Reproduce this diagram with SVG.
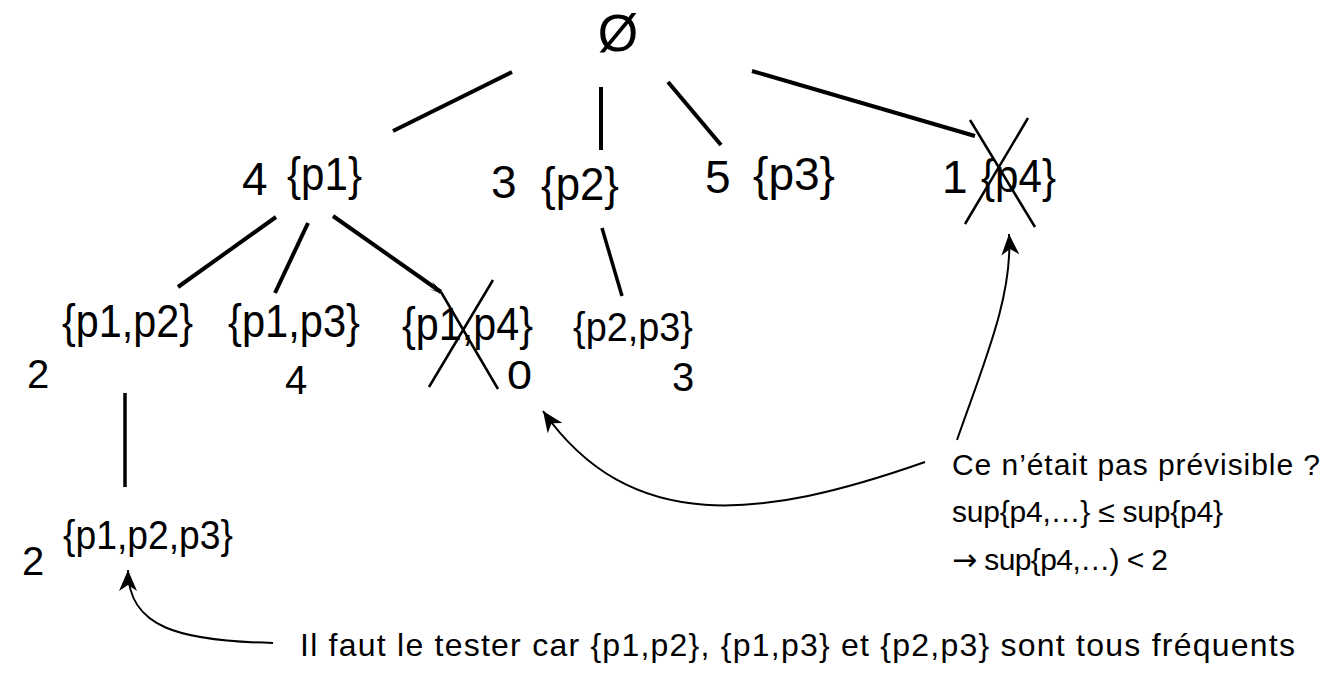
<svg xmlns="http://www.w3.org/2000/svg" width="1326" height="675" viewBox="0 0 1326 675">
<style>
text{font-family:"Liberation Sans",Arial,sans-serif;fill:#000}
.lbl{font-size:46px}
.l2{font-size:46px}
.cnt{font-size:40px}
.note{font-size:30px}
.arr{font-family:"DejaVu Sans",sans-serif}
.edge{stroke:#000;stroke-width:4;stroke-linecap:butt;fill:none}
.thin{stroke:#000;stroke-width:3.5;fill:none}
.cross{stroke:#000;stroke-width:2.5;fill:none}
.curve{stroke:#000;stroke-width:2;fill:none;marker-end:url(#ah)}
</style>
<defs>
<marker id="ah" markerUnits="userSpaceOnUse" viewBox="-22 -11 24 22" refX="0" refY="0" markerWidth="24" markerHeight="22" orient="auto">
<path d="M0,0 L-21,-9 L-15,0 L-21,9 Z" fill="#000"/>
</marker>
</defs>
<rect width="1326" height="675" fill="#fff"/>
<g id="connectors">
<line class="edge" x1="393" y1="131" x2="512" y2="72"/>
<line class="edge" x1="601" y1="87" x2="601" y2="150"/>
<line class="edge" x1="668" y1="82" x2="721" y2="145"/>
<line class="edge" x1="752" y1="71" x2="975" y2="136"/>
<line class="edge" x1="178" y1="287" x2="276" y2="217"/>
<line class="edge" x1="275" y1="293" x2="308" y2="223"/>
<line class="edge" x1="333" y1="216" x2="441" y2="292"/>
<path d="M443,294 L432,281 L438,291 L429,289 Z" fill="#000"/>
<line class="thin" x1="602" y1="228" x2="622" y2="296"/>
<line class="thin" x1="125" y1="393" x2="125" y2="487"/>
<path class="curve" d="M925,462 C760,520 630,535 543,411"/>
<path class="curve" d="M957,440 C985,360 1013,295 1009,234"/>
<path class="curve" d="M273,643 C180,641 128,628 128,570"/>
</g>
<g id="root"><text x="618" y="51" style="font-size:52px" text-anchor="middle">Ø</text></g>
<g id="n-p1"><text class="lbl" x="242" y="195">4</text><text class="lbl" x="287" y="190" textLength="75" lengthAdjust="spacingAndGlyphs">{p1}</text></g>
<g id="n-p2"><text class="lbl" x="491" y="198">3</text><text class="lbl" x="541" y="200" textLength="78" lengthAdjust="spacingAndGlyphs">{p2}</text></g>
<g id="n-p3"><text class="lbl" x="705" y="193">5</text><text class="lbl" x="753" y="190" textLength="82" lengthAdjust="spacingAndGlyphs">{p3}</text></g>
<g id="n-p4"><text class="lbl" x="942" y="193">1</text><text class="lbl" x="981" y="192" textLength="75" lengthAdjust="spacingAndGlyphs">{p4}</text>
<line class="cross" x1="970" y1="120" x2="1035" y2="227"/><line class="cross" x1="1028" y1="118" x2="965" y2="224"/></g>
<g id="n-p1p2"><text class="l2" x="62" y="337" textLength="131" lengthAdjust="spacingAndGlyphs">{p1,p2}</text><text class="cnt" x="27" y="388">2</text></g>
<g id="n-p1p3"><text class="l2" x="228" y="337" textLength="132" lengthAdjust="spacingAndGlyphs">{p1,p3}</text><text class="cnt" x="285" y="394">4</text></g>
<g id="n-p1p4"><text class="l2" x="402" y="340" textLength="131" lengthAdjust="spacingAndGlyphs">{p1,p4}</text><text class="cnt" x="507" y="389" textLength="25" lengthAdjust="spacingAndGlyphs">0</text>
<line class="cross" x1="493" y1="280" x2="429" y2="387"/><line class="cross" x1="441" y1="292" x2="498" y2="389"/></g>
<g id="n-p2p3"><text x="573" y="341" style="font-size:40px" textLength="120" lengthAdjust="spacingAndGlyphs">{p2,p3}</text><text class="cnt" x="672" y="391">3</text></g>
<g id="n-p1p2p3"><text x="63" y="549" style="font-size:40px" textLength="170" lengthAdjust="spacingAndGlyphs">{p1,p2,p3}</text><text class="cnt" x="22" y="575">2</text></g>
<g id="note-right">
<text class="note" x="952" y="475" textLength="368">Ce n’était pas prévisible ?</text>
<text class="note" x="952" y="522" textLength="271">sup{p4,…} ≤ sup{p4}</text>
<text class="note" x="952" y="570" textLength="216"><tspan class="arr">→</tspan> sup{p4,…) &lt; 2</text>
</g>
<g id="note-bottom"><text class="note" x="300" y="656" style="font-size:32px" textLength="995">Il faut le tester car {p1,p2}, {p1,p3} et {p2,p3} sont tous fréquents</text></g>
</svg>
